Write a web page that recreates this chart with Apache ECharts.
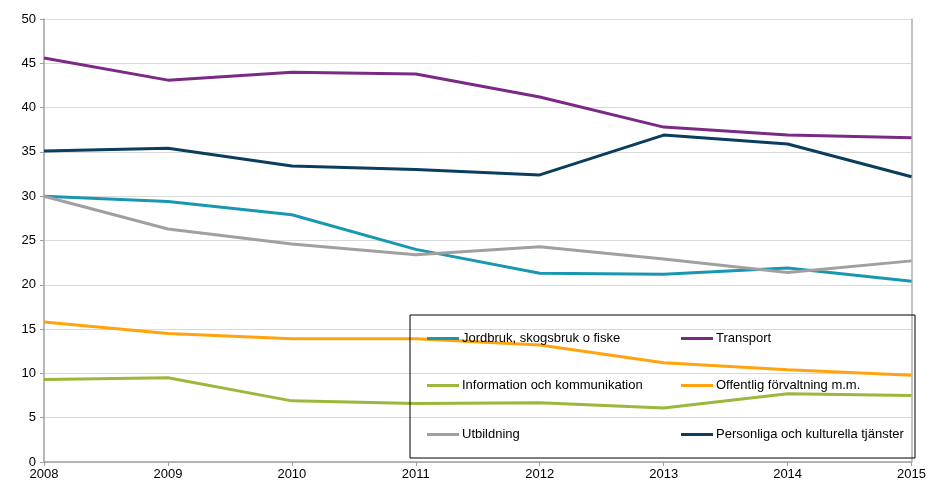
<!DOCTYPE html>
<html>
<head>
<meta charset="utf-8">
<script src="https://cdn.jsdelivr.net/npm/echarts@6/dist/echarts.min.js"></script>
<style>
  html, body { margin: 0; padding: 0; background: #fff; }
  #chart { width: 929px; height: 481px; }
</style>
</head>
<body>
<div id="chart"></div>
<script>
// data
const years = ["2008", "2009", "2010", "2011", "2012", "2013", "2014", "2015"];
const jordbruk = [30.0, 29.4, 27.9, 24.0, 21.3, 21.2, 21.9, 20.4];
const transport = [45.6, 43.1, 44.0, 43.8, 41.2, 37.8, 36.9, 36.6];
const information = [9.3, 9.5, 6.9, 6.6, 6.7, 6.1, 7.7, 7.5];
const offentlig = [15.8, 14.5, 13.9, 13.9, 13.2, 11.2, 10.4, 9.8];
const utbildning = [30.0, 26.3, 24.6, 23.4, 24.3, 22.9, 21.4, 22.7];
const personliga = [35.1, 35.4, 33.4, 33.0, 32.4, 36.9, 35.9, 32.2];

const seriesDefs = [
  { name: "Jordbruk, skogsbruk o fiske", data: jordbruk, color: "#1898b0", left: 427, top: 332 },
  { name: "Transport", data: transport, color: "#7a2a84", left: 681, top: 332 },
  { name: "Information och kommunikation", data: information, color: "#9bb83c", left: 427, top: 379 },
  { name: "Offentlig förvaltning m.m.", data: offentlig, color: "#ffa30f", left: 681, top: 379 },
  { name: "Utbildning", data: utbildning, color: "#a0a0a0", left: 427, top: 428 },
  { name: "Personliga och kulturella tjänster", data: personliga, color: "#0b3d5e", left: 681, top: 428 }
];

const chart = echarts.init(document.getElementById("chart"));

// one legend per item so the two columns line up like the original box
const legends = seriesDefs.map(s => ({
  data: [s.name],
  left: s.left,
  top: s.top,
  icon: "rect",
  itemWidth: 32,
  itemHeight: 3,
  itemGap: 0,
  padding: 0,
  selectedMode: false,
  textStyle: { color: "#000", fontSize: 13, fontFamily: "Liberation Sans", padding: [0, 0, 0, -2] }
}));

const option = {
  backgroundColor: "#fff",
  animation: false,
  grid: { left: 44, right: 17, top: 19, bottom: 18 },
  legend: legends,
  graphic: [{
    type: "rect",
    shape: { x: 410, y: 315, width: 505, height: 143 },
    style: { fill: "none", stroke: "#000", lineWidth: 1 },
    z: 100
  }],
  xAxis: {
    type: "category",
    data: years,
    boundaryGap: false,
    axisLine: { lineStyle: { color: "#a0a0a0", width: 1.5 } },
    axisTick: { show: true, length: 4, alignWithLabel: true, lineStyle: { color: "#a0a0a0" } },
    axisLabel: { color: "#000", fontSize: 13, fontFamily: "Liberation Sans", margin: 6 },
    splitLine: { show: false }
  },
  yAxis: [{
    type: "value",
    min: 0,
    max: 50,
    interval: 5,
    axisLine: { show: true, lineStyle: { color: "#a0a0a0", width: 1.5 } },
    axisTick: { show: true, length: 4, lineStyle: { color: "#a0a0a0" } },
    axisLabel: { color: "#000", fontSize: 13, fontFamily: "Liberation Sans", margin: 8 },
    splitLine: { show: true, lineStyle: { color: "#d9d9d9", width: 1 } }
  }, {
    type: "value",
    position: "right",
    min: 0,
    max: 50,
    interval: 5,
    axisLine: { show: true, lineStyle: { color: "#b0b0b0", width: 1.5 } },
    axisTick: { show: false },
    axisLabel: { show: false },
    splitLine: { show: false }
  }],
  series: seriesDefs.map(s => ({
    name: s.name,
    type: "line",
    data: s.data,
    symbol: "none",
    color: s.color,
    lineStyle: { color: s.color, width: 3 }
  }))
};

chart.setOption(option);
</script>
</body>
</html>
